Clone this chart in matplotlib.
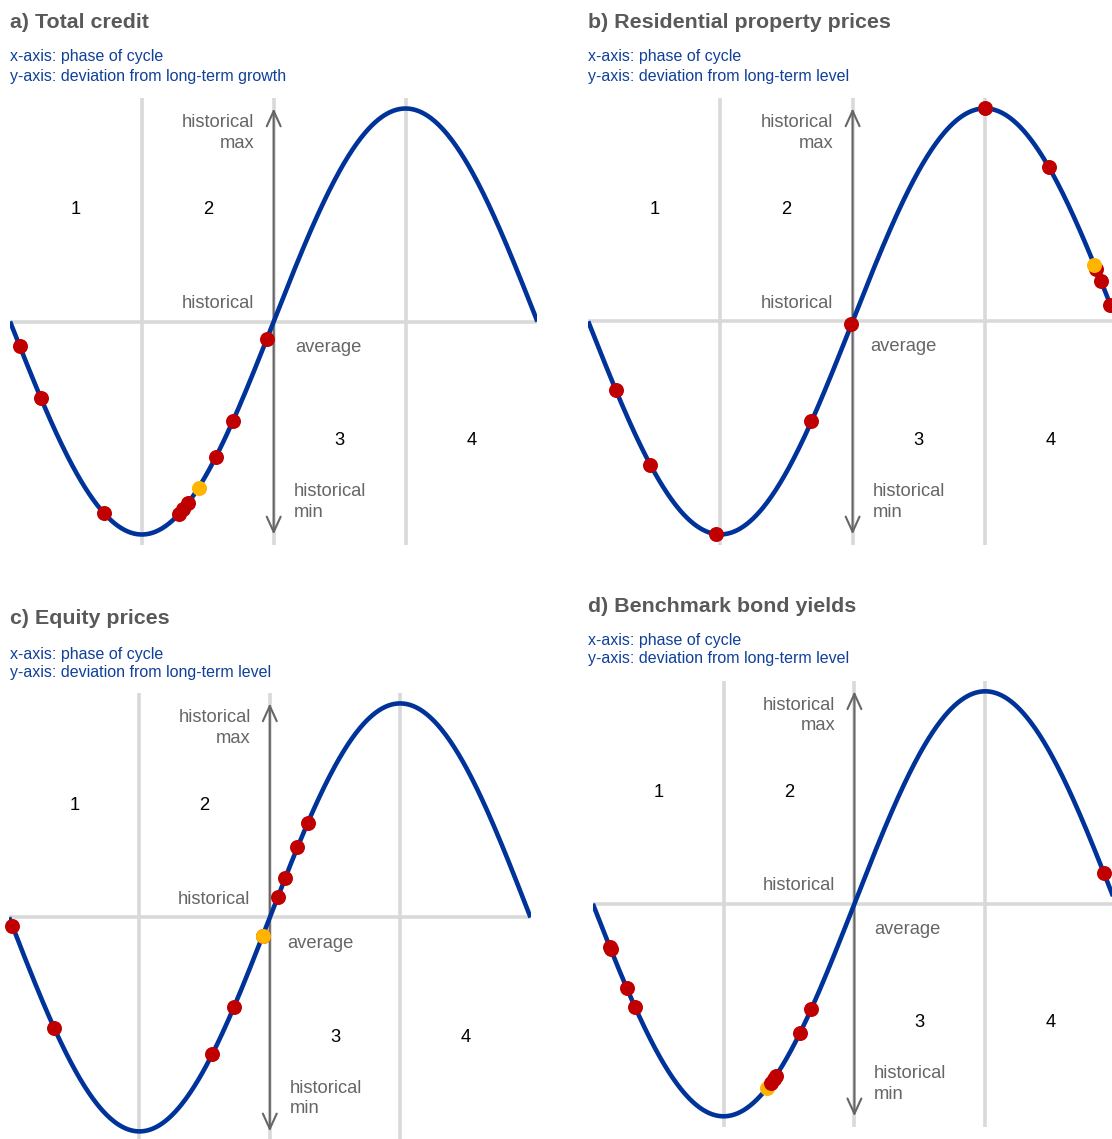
import numpy as np
import matplotlib
matplotlib.use("Agg")
import matplotlib.pyplot as plt
from matplotlib.patches import FancyArrowPatch

plt.rcParams['font.family'] = ['Liberation Sans', 'DejaVu Sans']

# panel titles and axis notes
titles = ['a) Total credit', 'b) Residential property prices',
          'c) Equity prices', 'd) Benchmark bond yields']
notes = [['x-axis: phase of cycle', 'y-axis: deviation from long-term growth'],
         ['x-axis: phase of cycle', 'y-axis: deviation from long-term level'],
         ['x-axis: phase of cycle', 'y-axis: deviation from long-term level'],
         ['x-axis: phase of cycle', 'y-axis: deviation from long-term level']]
phase_labels = ['1', '2', '3', '4']

# position of each country in the cycle (0-4, one unit per phase)
red_phases = [
    [0.073, 0.234, 0.713, 1.282, 1.312, 1.350, 1.560, 1.691, 1.949],
    [0.209, 0.470, 0.967, 1.689, 1.991, 3.0, 3.485, 3.843, 3.880, 3.950],
    [0.026, 0.345, 1.560, 1.724, 1.945, 2.060, 2.117, 2.212, 2.292],
    [0.130, 0.136, 0.260, 0.323, 1.359, 1.384, 1.401, 1.583, 1.672, 3.908],
]
yellow_phases = [1.430, 3.829, 1.945, 1.330]
yellow_on_top = [True, True, True, False]

# layout in pixels: x of phase 0, width of a phase, y of average, amplitude
panel_px = [(10, 131.85, 321.5, 213), (588.2, 132.2, 321.4, 213),
            (9.1, 130.35, 917.4, 214), (592.8, 130.8, 903.8, 212.5)]
title_px = [(10, 23, 57, 76), (588, 23, 57, 76),
            (10, 618, 654, 673), (588, 606, 640, 659)]
avg_x = [2.16, 2.13, 2.135, 2.155]

W, H = 1112, 1139
BLUE = '#003399'
RED = '#c00000'
YELLOW = '#ffb400'
GREY = '#d9d9d9'
TXT = '#666666'

fig = plt.figure(figsize=(W / 100, H / 100), dpi=100)

def cycle(t):
    return -np.sin(np.pi * np.asarray(t) / 2)

for i in range(4):
    x0, q, y0, amp = panel_px[i]
    ax = fig.add_axes([x0 / W, 1 - (y0 + 1.1 * amp) / H, 4 * q / W, 2.2 * amp / H])
    ax.set_xlim(0, 4)
    ax.set_ylim(-1.1, 1.1)
    ax.axis('off')

    ax.vlines([1, 2, 3], -1.05, 1.05, color=GREY, lw=2.6, zorder=1)
    ax.hlines(0, 0, 4, color=GREY, lw=2.6, zorder=1)

    arr = FancyArrowPatch((2, -1), (2, 1), arrowstyle='<->,head_length=11,head_width=5',
                          color='#666666', lw=1.5, shrinkA=0, shrinkB=0, zorder=2)
    ax.add_patch(arr)

    t = np.linspace(0, 4, 500)
    ax.plot(t, cycle(t), color=BLUE, lw=3.3, solid_capstyle='butt', zorder=3)

    yz = 6 if yellow_on_top[i] else 4
    ax.plot(red_phases[i], cycle(red_phases[i]), 'o', color=RED, ms=10.8, mew=0,
            zorder=5, clip_on=False)
    ax.plot([yellow_phases[i]], cycle([yellow_phases[i]]), 'o', color=YELLOW, ms=10.8,
            mew=0, zorder=yz, clip_on=False)

    for k, lab in enumerate(phase_labels):
        ax.text(k + 0.5, 0.525 if k < 2 else -0.56, lab, ha='center', va='center',
                fontsize=13.2, color='black')

    ax.text(1.855, 0.885, 'historical\nmax', ha='right', va='center', multialignment='right',
            fontsize=13.2, color=TXT, linespacing=1.25)
    ax.text(1.85, 0.085, 'historical', ha='right', va='center', fontsize=13.2, color=TXT)
    ax.text(avg_x[i], -0.12, 'average', ha='left', va='center', fontsize=13.2, color=TXT)
    ax.text(2.15, -0.848, 'historical\nmin', ha='left', va='center', multialignment='left',
            fontsize=13.2, color=TXT, linespacing=1.25)

    tx, ty, n1, n2 = title_px[i]
    fig.text(tx / W, 1 - ty / H, titles[i], ha='left', va='center', fontsize=15.4,
             fontweight='bold', color='#595959')
    fig.text(tx / W, 1 - n1 / H, notes[i][0], ha='left', va='center', fontsize=11.5,
             color='#10409a')
    fig.text(tx / W, 1 - n2 / H, notes[i][1], ha='left', va='center', fontsize=11.5,
             color='#10409a')

fig.savefig('out.png', dpi=100)
